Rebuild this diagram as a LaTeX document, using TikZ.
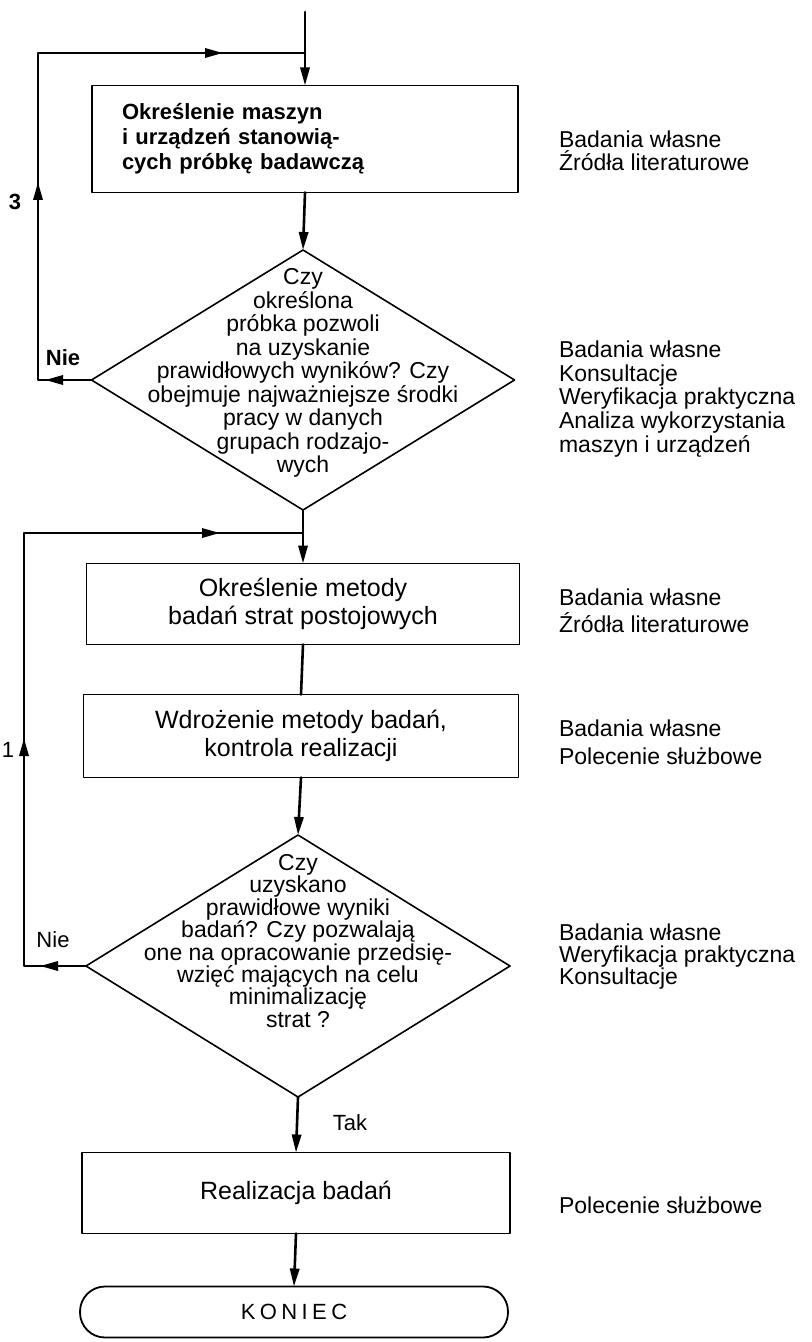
\documentclass[tikz,border=0pt]{standalone}
\usepackage{fontspec}
\setmainfont{Liberation Sans}
\usetikzlibrary{arrows.meta,shapes.geometric,decorations.markings}

\tikzset{
  box/.style={draw, line width=0.9pt, inner sep=0pt, outer sep=0pt, align=center,
    font=\fontsize{12.5}{14}\selectfont},
  decision/.style={draw, shape=diamond, line width=0.8pt, inner sep=0pt, outer sep=0pt},
  dtext/.style={align=center, font=\fontsize{11.5}{11.75}\selectfont},
  note/.style={anchor=west, align=left, font=\fontsize{11.5}{12}\selectfont},
  tag/.style={font=\fontsize{11}{13}\selectfont},
  flow/.style={line width=1.3pt},
  midarr/.style={postaction={decorate, decoration={markings,
    mark=at position #1 with {\arrow{>}}}}},
}

\begin{document}
\begin{tikzpicture}[>={Triangle[length=9pt,width=4.6pt]}, line cap=round, line join=round,
  x=0.5pt, y=-0.5pt]

\useasboundingbox (0,0) rectangle (811,1342);

% ----------------------------
% BOXES AND DECISIONS
% ----------------------------
\node[box, minimum width=213pt, minimum height=53.5pt, align=left, text width=183pt,
  font=\bfseries\fontsize{11}{12.5}\selectfont] (prob) at (305,139)
  {Określenie maszyn\\ i urządzeń stanowią-\\ cych próbkę badawczą};

\node[decision, minimum width=211.5pt, minimum height=130pt] (test1) at (303,380) {};
\node[dtext] (test1txt) at (303,373)
  {Czy\\ określona\\ próbka pozwoli\\ na uzyskanie\\ prawidłowych wyników? Czy\\
   obejmuje najważniejsze środki\\ pracy w danych\\ grupach rodzajo-\\ wych};

\node[box, minimum width=216.5pt, minimum height=40.5pt] (method) at (303,604)
  {Określenie metody\\ badań strat postojowych};

\node[box, minimum width=217.5pt, minimum height=41.5pt] (impl) at (301,736)
  {Wdrożenie metody badań,\\ kontrola realizacji};

\node[decision, minimum width=212pt, minimum height=131pt] (test2) at (298,966) {};
\node[dtext, font=\fontsize{11.5}{11.2}\selectfont] (test2txt) at (298,941)
  {Czy\\ uzyskano\\ prawidłowe wyniki\\ badań? Czy pozwalają\\
   one na opracowanie przedsię-\\ wzięć mających na celu\\ minimalizację\\ strat ?};

\node[box, minimum width=214pt, minimum height=40.5pt] (exec) at (296,1193)
  {Realizacja badań};

\node[box, rounded corners=12.5pt, minimum width=214pt, minimum height=25.5pt,
  font=\fontsize{11}{13}\selectfont\addfontfeatures{LetterSpace=20}] (stop) at (294,1312)
  {KONIEC};

% ----------------------------
% SOURCES (RIGHT COLUMN)
% ----------------------------
\node[note, font=\fontsize{11.5}{11.5}\selectfont] (src1) at (552,151)
  {Badania własne\\ Źródła literaturowe};
\node[note, font=\fontsize{11.5}{11.9}\selectfont] (src2) at (552,399)
  {Badania własne\\ Konsultacje\\ Weryfikacja praktyczna\\ Analiza wykorzystania\\ maszyn i urządzeń};
\node[note, font=\fontsize{11.5}{13.5}\selectfont] (src3) at (552,611)
  {Badania własne\\ Źródła literaturowe};
\node[note, font=\fontsize{11.5}{14}\selectfont] (src4) at (552,742)
  {Badania własne\\ Polecenie służbowe};
\node[note, font=\fontsize{11.5}{11}\selectfont] (src5) at (552,957)
  {Badania własne\\ Weryfikacja praktyczna\\ Konsultacje};
\node[note] (src6) at (552,1205) {Polecenie służbowe};

% ----------------------------
% LOOP POINTS
% ----------------------------
\coordinate (entry) at (305,12);
\coordinate (join3) at (305,53);
\coordinate (nie3)  at (38,380);
\coordinate (top3)  at (38,53);
\coordinate (join1) at (303,533);
\coordinate (nie1)  at (24,966);
\coordinate (top1)  at (24,533);

% ----------------------------
% MAIN FLOW
% ----------------------------
\draw[flow,->] (entry) -- (prob.north);
\draw[flow,->] (prob.south) -- (test1.north);
\draw[flow,->] (test1.south) -- (method.north);
\draw[flow] (method.south) -- (impl.north);
\draw[flow,->] (impl.south) -- (test2.north);
\draw[flow,->] (test2.south) -- (exec.north);
\draw[flow,->] (exec.south) -- (stop.north);

% ----------------------------
% RETURN LOOPS
% ----------------------------
\draw[flow, midarr=23.25pt, midarr=125.75pt, midarr=282.75pt]
  (test1.west) -- (nie3) -- (top3) -- (join3);
\draw[flow, midarr=23pt, midarr=145pt, midarr=345.5pt]
  (test2.west) -- (nie1) -- (top1) -- (join1);

% ----------------------------
% LABELS
% ----------------------------
\node[tag, font=\bfseries\fontsize{11}{13}\selectfont] (no1) at (63,358) {Nie};
\node[tag, font=\bfseries\fontsize{11}{13}\selectfont] (loop3) at (15,202) {3};
\node[tag] (no2) at (53,940) {Nie};
\node[tag] (loop1) at (8,750) {1};
\node[tag] (yes) at (350,1123) {Tak};

\end{tikzpicture}
\end{document}
